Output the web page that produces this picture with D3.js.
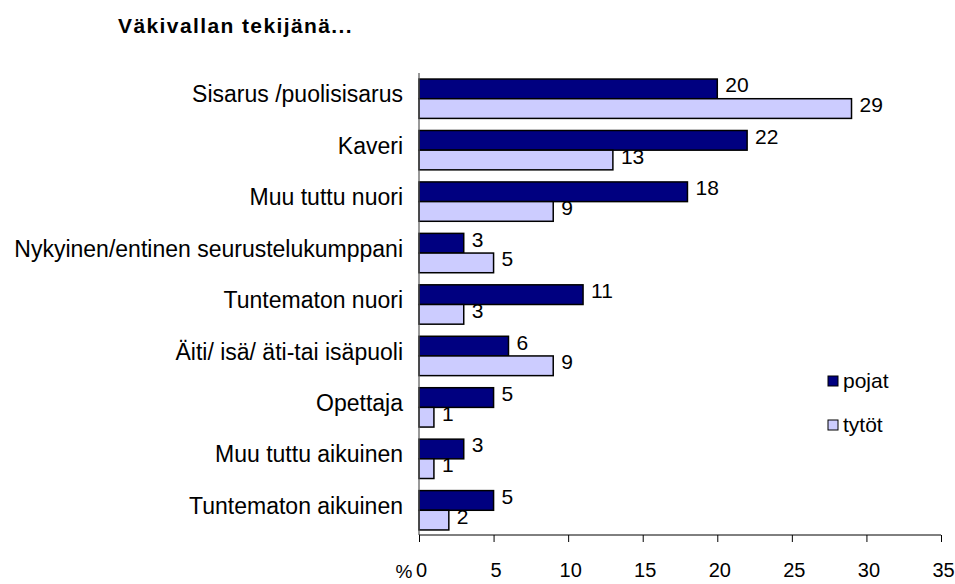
<!DOCTYPE html>
<html>
<head>
<meta charset="utf-8">
<script src="https://cdn.jsdelivr.net/npm/d3@7"></script>
<style>
  body { margin: 0; background: #fff; }
  text { font-family: "Liberation Sans", Arial, sans-serif; fill: #000; }
</style>
</head>
<body>
<svg id="chart" width="955" height="584"></svg>
<script>
// categories, top to bottom
var categories = [
    "Sisarus /puolisisarus",
    "Kaveri",
    "Muu tuttu nuori",
    "Nykyinen/entinen seurustelukumppani",
    "Tuntematon nuori",
    "Äiti/ isä/ äti-tai isäpuoli",
    "Opettaja",
    "Muu tuttu aikuinen",
    "Tuntematon aikuinen"
];
var pojat = [20, 22, 18, 3, 11, 6, 5, 3, 5];
var tytot = [29, 13, 9, 5, 3, 9, 1, 1, 2];
var seriesNames = ["pojat", "tytöt"];
var seriesColors = ["#000080", "#CCCCFF"];
var xTicks = [0, 5, 10, 15, 20, 25, 30, 35];

var svg = d3.select("#chart");

// plot area edges (note: "top" is reserved on window)
var plotLeft = 419, plotRight = 941, plotTop = 73, plotBottom = 535;

var xScale = d3.scaleLinear().domain([0, 35]).range([plotLeft, plotRight]);
var yScale = d3.scaleBand()
    .domain(categories)
    .range([plotTop, plotBottom + 1])
    .paddingInner(0.235)
    .paddingOuter(0.1175);
var bh = yScale.bandwidth() / 2;

// title
svg.append("text")
    .attr("x", 118).attr("y", 33)
    .style("font-size", "21px").style("font-weight", "bold")
    .style("letter-spacing", "1.4px")
    .text("Väkivallan tekijänä...");

// bars
var series = [pojat, tytot];
series.forEach(function (vals, s) {
    var g = svg.append("g");
    g.selectAll("rect").data(vals).enter().append("rect")
        .attr("x", xScale(0))
        .attr("y", function (d, i) { return yScale(categories[i]) + s * bh; })
        .attr("width", function (d) { return xScale(d) - xScale(0); })
        .attr("height", bh)
        .style("fill", seriesColors[s])
        .style("stroke", "#000")
        .style("stroke-width", 1.5);
    g.selectAll("text").data(vals).enter().append("text")
        .attr("x", function (d) { return xScale(d) + 8; })
        .attr("y", function (d, i) { return yScale(categories[i]) + s * bh + bh / 2 + 3.5; })
        .style("font-size", "21px")
        .text(function (d) { return d; });
});

// y axis line
svg.append("line")
    .attr("x1", plotLeft).attr("x2", plotLeft)
    .attr("y1", plotTop).attr("y2", plotBottom)
    .style("stroke", "#555").style("stroke-width", 1.2);

// category labels
svg.append("g").selectAll("text").data(categories).enter().append("text")
    .attr("x", 403)
    .attr("y", function (d) { return yScale(d) + bh + 3.6; })
    .attr("text-anchor", "end")
    .style("font-size", "23px")
    .text(function (d) { return d; });

// x axis
var xAxis = d3.axisBottom(xScale).tickValues(xTicks).tickSize(7).tickPadding(21).tickFormat(d3.format("d"));
var gx = svg.append("g")
    .attr("transform", "translate(0," + plotBottom + ")")
    .call(xAxis);
gx.select(".domain").attr("d", "M" + plotLeft + ",0H" + plotRight).style("stroke", "#000");
gx.selectAll(".tick line").style("stroke", "#000");
gx.selectAll(".tick text")
    .attr("dx", 2)
    .style("font-size", "20px").style("font-family", "Liberation Sans, Arial, sans-serif");

svg.append("text")
    .attr("x", 404).attr("y", 578)
    .attr("text-anchor", "middle")
    .style("font-size", "19px")
    .text("%");

// legend
var legend = svg.append("g");
seriesNames.forEach(function (name, i) {
    legend.append("rect")
        .attr("x", 828).attr("y", 376 + i * 44)
        .attr("width", 10).attr("height", 10)
        .style("fill", seriesColors[i])
        .style("stroke", "#000").style("stroke-width", 1);
    legend.append("text")
        .attr("x", 843).attr("y", 381 + i * 44 + 7)
        .style("font-size", "21px")
        .text(name);
});
</script>
</body>
</html>
